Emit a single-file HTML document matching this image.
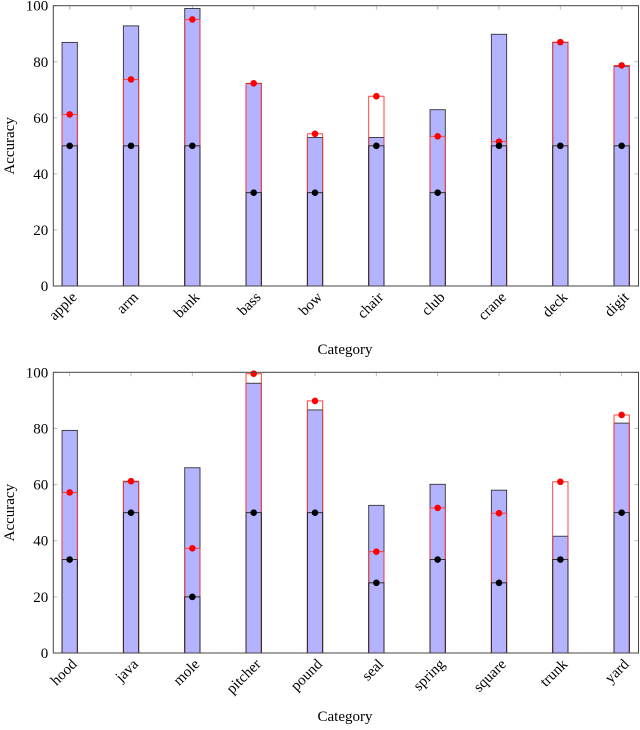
<!DOCTYPE html>
<html><head><meta charset="utf-8"><style>
html,body{margin:0;padding:0;background:#fff;}
svg{display:block;font-family:"Liberation Serif",serif;}
</style></head><body>
<svg id="chart" width="640" height="730" viewBox="0 0 640 730" xmlns="http://www.w3.org/2000/svg"></svg>
<script>
const categoriesTop = ["apple","arm","bank","bass","bow","chair","club","crane","deck","digit"];
const blueTop = [86.9,92.8,99.0,72.2,53.0,53.0,62.9,89.8,86.9,78.4];
const redTop = [61.2,73.7,95.1,72.3,54.3,67.7,53.4,51.5,87.0,78.7];
const blackTop = [50,50,50,33.3,33.3,50,33.3,50,50,50];
const categoriesBottom = ["hood","java","mole","pitcher","pound","seal","spring","square","trunk","yard"];
const blueBottom = [79.3,61.0,66.0,96.1,86.6,52.6,60.1,58.0,41.6,81.9];
const redBottom = [57.2,61.2,37.3,99.5,89.8,36.1,51.7,49.8,61.0,84.8];
const blackBottom = [33.3,50,20,50,50,25,33.3,25,33.3,50];
const yTicks = [0,20,40,60,80,100];

const NS = "http://www.w3.org/2000/svg";
const svg = document.getElementById("chart");
function mk(tag, attrs, parent){
  const e = document.createElementNS(NS, tag);
  for (const k in attrs) e.setAttribute(k, attrs[k]);
  (parent||svg).appendChild(e);
  return e;
}
function panel(id, top, bottom, cats, blue, red, black){
  const L = 53.3, R = 638.5;
  const g = mk("g", {});
  
  
  const y = v => bottom - (bottom - top) * v / 100;
  const x = i => 69.7 + i * 61.33;
  const bw = 15.3;
  // ticks
  yTicks.forEach(t => {
    const l1 = mk("line", {x1:L, x2:L+4, y1:y(t), y2:y(t), stroke:"#bbb", "stroke-width":1}, g);
    const l2 = mk("line", {x1:R-4, x2:R, y1:y(t), y2:y(t), stroke:"#bbb", "stroke-width":1}, g);
    const tx = mk("text", {x:L-5, y:y(t)+5, "text-anchor":"end", "font-size":15, fill:"#000"}, g);
    tx.textContent = t;
    
    
  });
  cats.forEach((c, i) => {
    const cx = x(i);
    mk("line", {x1:cx, x2:cx, y1:top, y2:top+4, stroke:"#bbb", "stroke-width":1}, g);
    mk("line", {x1:cx, x2:cx, y1:bottom-4, y2:bottom, stroke:"#bbb", "stroke-width":1}, g);
    const b = mk("rect", {x:cx-bw/2, y:y(blue[i]), width:bw, height:bottom-y(blue[i]), fill:"#b3b3ff", stroke:"#333", "stroke-width":0.9}, g);
    
    
    const r = mk("rect", {x:cx-bw/2, y:y(red[i]), width:bw, height:bottom-y(red[i]), fill:"none", stroke:"#f33", "stroke-width":0.9}, g);
    
    
    const k = mk("rect", {x:cx-bw/2, y:y(black[i]), width:bw, height:bottom-y(black[i]), fill:"none", stroke:"#222", "stroke-width":0.9}, g);
    
    
    const rd = mk("circle", {cx:cx, cy:y(red[i]), r:3.3, fill:"#f00"}, g);
    
    
    const bd = mk("circle", {cx:cx, cy:y(black[i]), r:3.3, fill:"#000"}, g);
    
    
    const tx = mk("text", {x:cx+8, y:bottom+12, "text-anchor":"end", "font-size":15, fill:"#000", transform:`rotate(-45 ${cx+8} ${bottom+12})`}, g);
    tx.textContent = c;
    
    
  });
  const f = mk("rect", {x:L, y:top, width:R-L, height:bottom-top, fill:"none", stroke:"#444", "stroke-width":1}, g);
  
  
  const xt = mk("text", {x:345, y:bottom+68, "text-anchor":"middle", "font-size":15, fill:"#000"}, g);
  xt.textContent = "Category";
  
  
  const cy = (top+bottom)/2;
  const yt = mk("text", {x:14, y:cy, "text-anchor":"middle", "font-size":15, fill:"#000", transform:`rotate(-90 14 ${cy})`}, g);
  yt.textContent = "Accuracy";
  
  
}
panel("top", 5.7, 286, categoriesTop, blueTop, redTop, blackTop);
panel("bottom", 372.3, 653, categoriesBottom, blueBottom, redBottom, blackBottom);
</script>
</body></html>
